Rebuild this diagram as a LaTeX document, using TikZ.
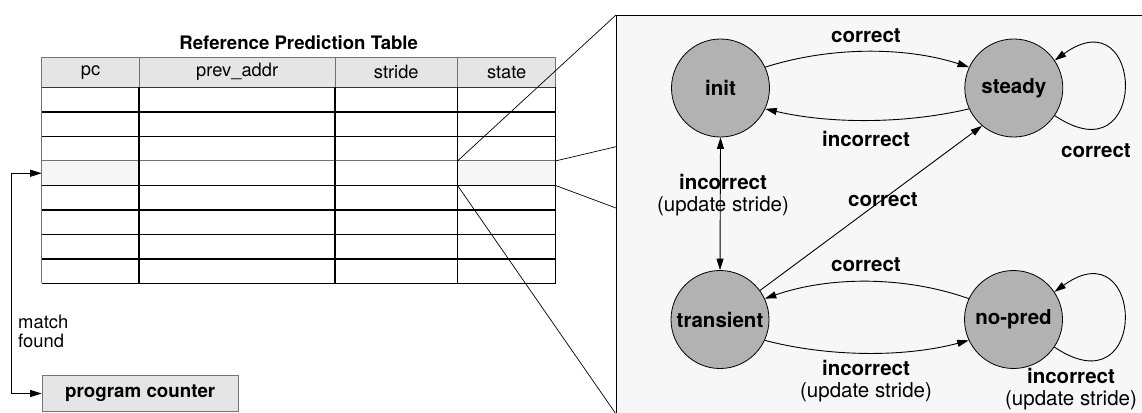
\documentclass[tikz,border=0pt]{standalone}
\usepackage{fontspec}
\setmainfont{TeX Gyre Heros}
\usetikzlibrary{arrows.meta}

\definecolor{headfill}{gray}{0.90}
\definecolor{rowfill}{gray}{0.965}
\definecolor{panelfill}{gray}{0.97}
\definecolor{statefill}{gray}{0.70}
\definecolor{rulegray}{gray}{0.45}

\begin{document}
\begin{tikzpicture}[x=1pt,y=-1pt,
  tip/.tip={Triangle[length=11.5pt,width=7pt]},
  arr/.style={-tip, line width=0.9pt},
  biarr/.style={tip-tip, line width=0.9pt},
  state/.style={circle, draw, line width=0.8pt, fill=statefill,
    minimum size=98pt, inner sep=0pt,
    font=\fontsize{20.5}{24}\selectfont\bfseries},
  lbl/.style={font=\fontsize{20.5}{22}\selectfont\bfseries, inner sep=0pt},
  lbltwo/.style={align=center, font=\fontsize{20.5}{22}\selectfont, inner sep=0pt},
  cell/.style={draw=none, minimum width=#1, minimum height=24.5pt,
    inner sep=0pt, anchor=north west},
  headtxt/.style={font=\fontsize{18.3}{20}\selectfont, inner sep=0pt},
  bodyrule/.style={line width=1.4pt},
  thinrule/.style={rulegray, line width=1pt},
  zoomline/.style={line width=0.7pt},
]
\useasboundingbox (0,0) rectangle (1142,412);

% ---- zoomed panel with the state machine ----
\node[draw, line width=1pt, fill=panelfill, minimum width=540pt,
  minimum height=420pt, anchor=north west, inner sep=0pt] (panel) at (616,15) {};

% ---- reference prediction table ----
\node[font=\fontsize{18.6}{20}\selectfont\bfseries] (title) at (298.7,43) {Reference Prediction Table};

\fill[headfill] (41.7,57.3) rectangle (555.7,87.3);
\node[cell=97.6pt, fill=rowfill] (hpc) at (41.7,160.8) {};
\node[cell=98pt, fill=rowfill] (hstate) at (457.7,160.8) {};

% header frame
\draw[thinrule] (41.7,57.3) rectangle (555.7,87.3);
\foreach \x in {139.3,335,457.7} \draw[thinrule] (\x,57.3) -- (\x,87.3);
\draw[line width=1pt, black!80] (41.7,87.3) -- (555.7,87.3);

% body rows
\foreach \y in {111.8,136.3,185.3,209.8,234.3,258.8,283.3}
  \draw[bodyrule] (41.7,\y) -- (555.7,\y);
\draw[thinrule] (41.7,160.8) -- (555.7,160.8);
\draw[thinrule] (41.7,87.3) -- (41.7,283.3);
\draw[line width=1.8pt] (139.3,87.3) -- (139.3,283.3);
\draw[line width=1.1pt] (335,87.3) -- (335,283.3);
\draw[line width=1.1pt] (457.7,87.3) -- (457.7,283.3);
\draw[line width=1.1pt] (555.7,87.3) -- (555.7,283.3);

\node[headtxt] (hcol1) at (90.5,72.3) {pc};
\node[headtxt] (hcol2) at (237.2,72.3) {prev\_addr};
\node[headtxt] (hcol3) at (396.3,72.3) {stride};
\node[headtxt] (hcol4) at (506.7,72.3) {state};

% ---- program counter and match path ----
\node[draw=rulegray, line width=1pt, fill=headfill, minimum width=196pt,
  minimum height=36pt, anchor=north west, inner sep=0pt,
  font=\fontsize{18.75}{20}\selectfont\bfseries] (pcbox) at (41.7,375) {program counter};
\draw[biarr] (hpc.west) -- ++(-30,0) |- (pcbox.west);
\node[align=left, anchor=west, inner sep=0pt,
  font=\fontsize{18.4}{19.5}\selectfont] (matchlbl) at (18,331.5) {match\\found};

% ---- zoom lines from the highlighted cell ----
\coordinate (zA) at (616,146.7);
\coordinate (zB) at (616,208);
\coordinate (zC) at (616,414);
\draw[zoomline] (hstate.north west) -- (panel.north west);
\draw[zoomline] (hstate.north east) -- (zA);
\draw[zoomline] (hstate.south east) -- (zB);
\draw[zoomline] (hstate.south west) -- (zC);

% ---- states ----
\node[state] (init) at (720.5,88) {init};
\node[state] (steady) at (1013.8,88) {steady};
\node[state] (transient) at (720,319.5) {transient};
\node[state] (nopred) at (1013.5,319.5) {no-pred};

% ---- transitions ----
\draw[arr] (init.25) .. controls (830,46.5) and (905,46.5) .. (steady.155);
\draw[arr] (steady.205) .. controls (905,124) and (830,124) .. (init.335);
\draw[arr] (steady.-34) .. controls (1150,180) and (1145,-5) .. (steady.34);
\draw[biarr] (init.south) -- (transient.north);
\draw[arr] (transient.36) -- (steady.230);
\draw[arr] (nopred.155) .. controls (905,276) and (830,276) .. (transient.25);
\draw[arr] (transient.335) .. controls (830,357.3) and (905,357.3) .. (nopred.205);
\draw[arr] (nopred.-34) .. controls (1150,411.5) and (1145,226.5) .. (nopred.34);

% ---- transition labels ----
\node[lbl] (l1) at (866,36) {correct};
\node[lbl] (l2) at (866,139) {incorrect};
\node[lbl] (l3) at (1096,151) {correct};
\node[lbltwo] (l4) at (723,195) {\bfseries incorrect\\(update stride)};
\node[lbl] (l5) at (883,200) {correct};
\node[lbl] (l6) at (866,265) {correct};
\node[lbltwo] (l7) at (866,381) {\bfseries incorrect\\(update stride)};
\node[lbltwo] (l8) at (1071,389) {\bfseries incorrect\\(update stride)};
\end{tikzpicture}
\end{document}
